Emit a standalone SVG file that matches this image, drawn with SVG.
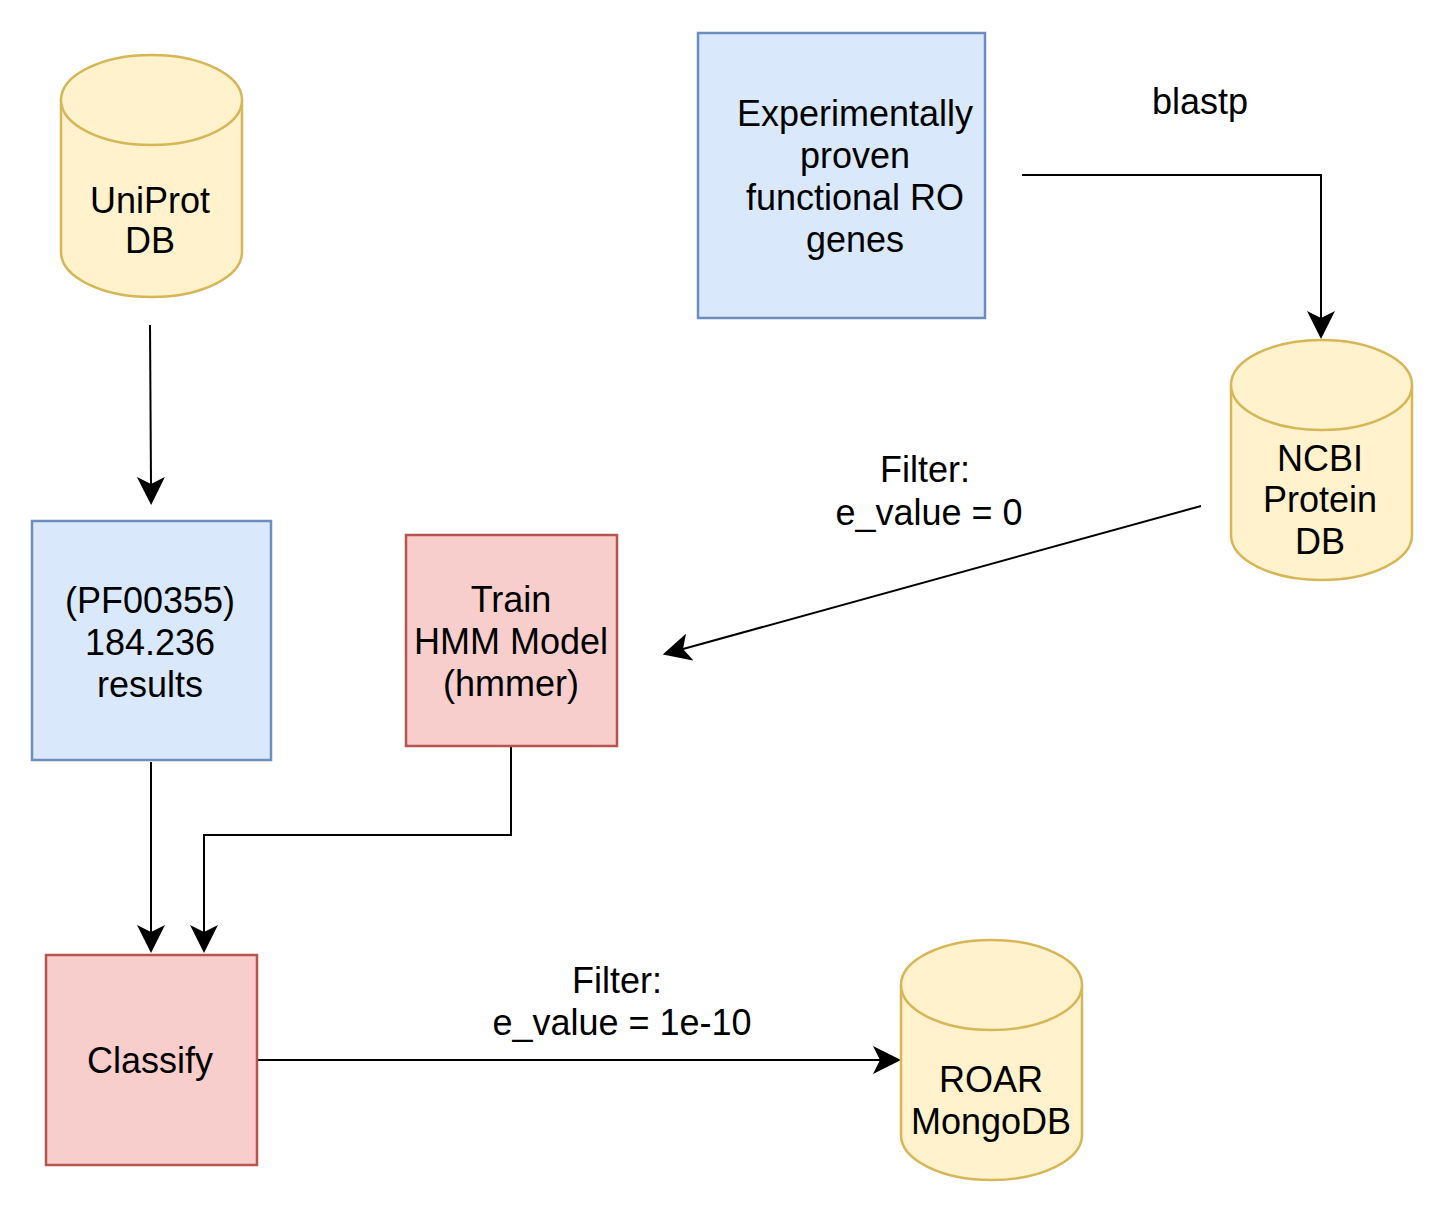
<svg xmlns="http://www.w3.org/2000/svg" width="1446" height="1212" viewBox="0 0 1446 1212">
<style>
text{font-family:"Liberation Sans",Arial,Helvetica,sans-serif;font-size:36px;fill:#000;text-anchor:middle}
.blue{fill:#dae8fc;stroke:#6c8ebf;stroke-width:2.5}
.red{fill:#f8cecc;stroke:#b85450;stroke-width:2.5}
.yel{fill:#fff2cc;stroke:#d6b656;stroke-width:2.5}
.edge{fill:none;stroke:#000;stroke-width:2}
</style>
<defs>
<marker id="arr" markerUnits="userSpaceOnUse" viewBox="0 0 28 28" markerWidth="28" markerHeight="28" refX="7" refY="14" orient="auto">
<path d="M28,14 L0,0 L7,14 L0,28 Z" fill="#000"/>
</marker>
</defs>
<rect width="1446" height="1212" fill="#fff"/>
<g id="edges">
<path class="edge" d="M150,325 L151,484" marker-end="url(#arr)"/>
<path class="edge" d="M1022,175 L1321,175 L1321,318" marker-end="url(#arr)"/>
<path class="edge" d="M1201,506 L683,649" marker-end="url(#arr)"/>
<path class="edge" d="M151,762 L151,932" marker-end="url(#arr)"/>
<path class="edge" d="M511,746 L511,835 L204,835 L204,932" marker-end="url(#arr)"/>
<path class="edge" d="M258,1060 L880,1060" marker-end="url(#arr)"/>
<text x="1200" y="114">blastp</text>
<text x="925" y="482">Filter:</text>
<text x="929" y="525">e_value = 0</text>
<text x="617" y="993">Filter:</text>
<text x="622" y="1035">e_value = 1e-10</text>
</g>
<g id="uniprot">
<path class="yel" d="M61,100 A90.5,45 0 0 1 242,100 L242,252 A90.5,45 0 0 1 61,252 Z"/>
<path class="yel" d="M61,100 A90.5,45 0 0 0 242,100" fill="none"/>
<text x="150" y="213">UniProt</text>
<text x="150" y="253">DB</text>
</g>
<g id="experimental">
<rect class="blue" x="698" y="33" width="287" height="285"/>
<text x="855" y="126">Experimentally</text>
<text x="855" y="168">proven</text>
<text x="855" y="210">functional RO</text>
<text x="855" y="252">genes</text>
</g>
<g id="ncbi">
<path class="yel" d="M1231,385 A90.5,45 0 0 1 1412,385 L1412,535 A90.5,45 0 0 1 1231,535 Z"/>
<path class="yel" d="M1231,385 A90.5,45 0 0 0 1412,385" fill="none"/>
<text x="1320" y="471">NCBI</text>
<text x="1320" y="512">Protein</text>
<text x="1320" y="554">DB</text>
</g>
<g id="pfam">
<rect class="blue" x="32" y="521" width="239" height="239"/>
<text x="150" y="613">(PF00355)</text>
<text x="150" y="655">184.236</text>
<text x="150" y="697">results</text>
</g>
<g id="train">
<rect class="red" x="406" y="535" width="211" height="211"/>
<text x="511" y="612">Train</text>
<text x="511" y="654">HMM Model</text>
<text x="511" y="696">(hmmer)</text>
</g>
<g id="classify">
<rect class="red" x="46" y="955" width="211" height="210"/>
<text x="150" y="1073">Classify</text>
</g>
<g id="roar">
<path class="yel" d="M901,985 A90.5,45 0 0 1 1082,985 L1082,1135 A90.5,45 0 0 1 901,1135 Z"/>
<path class="yel" d="M901,985 A90.5,45 0 0 0 1082,985" fill="none"/>
<text x="991" y="1092">ROAR</text>
<text x="991" y="1134">MongoDB</text>
</g>
</svg>
